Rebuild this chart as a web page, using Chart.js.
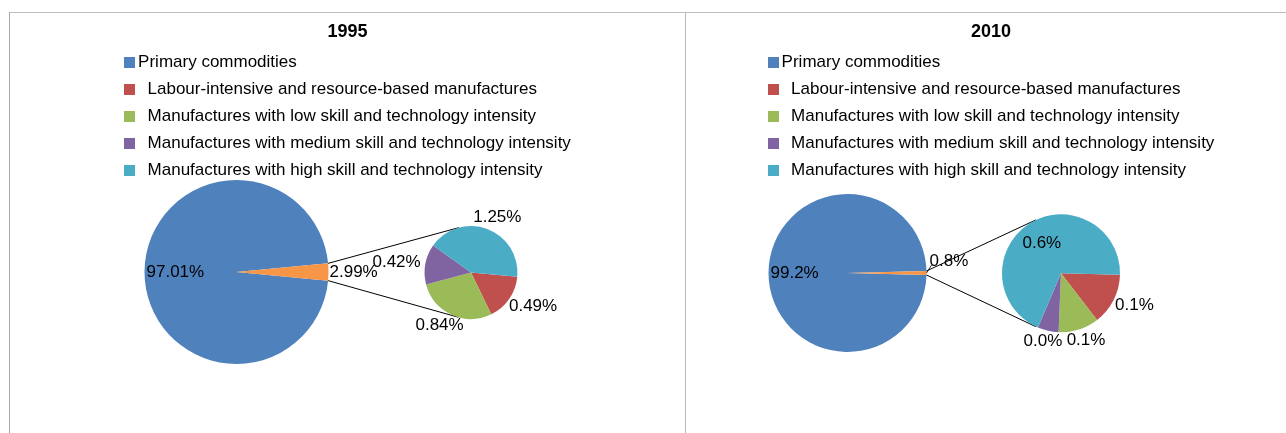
<!DOCTYPE html>
<html lang="en">
<head>
<meta charset="UTF-8">
<title>Export structure by product group, 1995 and 2010</title>
<script src="https://cdn.jsdelivr.net/npm/chart.js"></script>
<style>
  body { margin: 0; background: #fff; font-family: 'Liberation Sans', Arial, sans-serif; color: #000; }
  .panel { position: absolute; top: 12px; height: 440px; border-top: 1px solid #bdbdbd; box-sizing: border-box; }
  #p1995 { left: 9px; width: 677px; border-left: 1px solid #a8a8a8; border-right: 1px solid #b8b8b8; }
  #p2010 { left: 686px; width: 610px; }
  .panel canvas { position: absolute; left: 0; top: 0; }
  .title { position: absolute; top: 6px; left: 0; right: 0; text-align: center; font-weight: bold; font-size: 18px; line-height: 24px; }
  .legend { position: absolute; top: 35px; left: 0; right: 0; text-align: center; }
  .legend ul { display: inline-block; list-style: none; margin: 0; padding: 0; text-align: left; }
  .legend li { height: 27px; line-height: 27px; font-size: 17px; white-space: pre; }
  .legend .sw { display: inline-block; width: 11px; height: 11px; margin-right: 3px; vertical-align: -1px; }
</style>
</head>
<body>
<div class="panel" id="p1995">
  <canvas id="big1995" width="675" height="420"></canvas>
  <canvas id="small1995" width="675" height="420"></canvas>
  <div class="title">1995</div>
  <div class="legend"><ul id="legend1995"></ul></div>
</div>
<div class="panel" id="p2010">
  <canvas id="big2010" width="600" height="420"></canvas>
  <canvas id="small2010" width="600" height="420"></canvas>
  <div class="title">2010</div>
  <div class="legend"><ul id="legend2010"></ul></div>
</div>

<script>
// product groups (the source sheet has leading spaces on the manufactures)
const categories = [
  'Primary commodities',
  '  Labour-intensive and resource-based manufactures',
  '  Manufactures with low skill and technology intensity',
  '  Manufactures with medium skill and technology intensity',
  '  Manufactures with high skill and technology intensity'
];
const colors = ['#4F81BD', '#C0504D', '#9BBB59', '#8064A2', '#4BACC6'];
const otherColor = '#F79646';

// shares of total exports, %
const main1995 = [97.01, 2.99];          // primary, all manufactures
const split1995 = [0.49, 0.84, 0.42, 1.25];
const main2010 = [99.2, 0.8];
const split2010 = [0.113, 0.089, 0.046, 0.552];

// slice value labels
const sliceLabels = {
  id: 'sliceLabels',
  afterDatasetsDraw(chart, args, opts) {
    const ctx = chart.ctx;
    const values = chart.data.datasets[0].data;
    const meta = chart.getDatasetMeta(0);
    ctx.save();
    ctx.font = '17px "Liberation Sans", Arial, sans-serif';
    ctx.fillStyle = '#000';
    ctx.textAlign = 'center';
    ctx.textBaseline = 'middle';
    meta.data.forEach((arc, i) => {
      const p = arc.getProps(['x', 'y', 'startAngle', 'endAngle', 'outerRadius'], true);
      const mid = (p.startAngle + p.endAngle) / 2;
      const cos = Math.cos(mid), sin = Math.sin(mid);
      const text = values[i].toFixed(opts.digits) + '%';
      const hw = ctx.measureText(text).width / 2, hh = 7;
      const place = opts.place[i];
      let lx, ly;
      if (place === 'inside') {
        lx = p.x + (p.outerRadius - 2) * cos - hw * cos;
        ly = p.y + (p.outerRadius - 2) * sin - hh * sin;
      } else if (place === 'center') {
        lx = p.x + p.outerRadius * 0.6 * cos;
        ly = p.y + p.outerRadius * 0.6 * sin;
      } else {
        const g = opts.gap;
        lx = p.x + (p.outerRadius + g) * cos + hw * cos;
        ly = p.y + (p.outerRadius + g) * sin + hh * sin;
      }
      const shift = (opts.shift && opts.shift[i]) || 0;
      if (shift) {
        // short leader back to the slice edge
        ctx.beginPath();
        ctx.strokeStyle = '#000';
        ctx.lineWidth = 0.8;
        ctx.moveTo(p.x + p.outerRadius * cos, p.y + p.outerRadius * sin);
        ctx.lineTo(lx - hw + 2, ly + shift + 4);
        ctx.stroke();
      }
      ctx.fillText(text, lx, ly + shift);
    });
    ctx.restore();
  }
};

function pie(id, values, bg, geom, labels, extra) {
  const canvas = document.getElementById(id);
  const W = canvas.width, H = canvas.height;
  const total = values.reduce((a, b) => a + b, 0);
  const halfLast = values[values.length - 1] / total * 180;
  return new Chart(canvas, {
    type: 'pie',
    data: { labels: values.map((v, i) => i), datasets: [{ data: values, backgroundColor: bg, borderWidth: 0, hoverOffset: 0 }] },
    options: {
      responsive: false,
      animation: false,
      events: [],
      // first slice starts just below 3 o'clock so the last one sits centred on it
      rotation: 90 + (geom.centreLast ? halfLast : values[0] ? 0 : 0),
      layout: { padding: { left: geom.cx - geom.r, top: geom.cy - geom.r, right: W - geom.cx - geom.r, bottom: H - geom.cy - geom.r } },
      plugins: { legend: { display: false }, tooltip: { enabled: false }, sliceLabels: labels }
    },
    plugins: [sliceLabels].concat(extra || [])
  });
}

// lines from the manufactures slice of the main pie to tangents of the breakdown pie
function connector(source) {
  return {
    id: 'connector',
    beforeDatasetsDraw(chart) {
      const a = source.getDatasetMeta(0).data[1].getProps(['x', 'y', 'startAngle', 'endAngle', 'outerRadius'], true);
      const b = chart.getDatasetMeta(0).data[0].getProps(['x', 'y', 'outerRadius'], true);
      const ctx = chart.ctx;
      ctx.save();
      ctx.strokeStyle = '#000';
      ctx.lineWidth = 1;
      ctx.beginPath();
      [a.startAngle, a.endAngle].forEach((t, k) => {
        const px = a.x + a.outerRadius * Math.cos(t), py = a.y + a.outerRadius * Math.sin(t);
        const base = Math.atan2(py - b.y, px - b.x);
        const alpha = Math.acos(b.outerRadius / Math.hypot(px - b.x, py - b.y));
        const tt = k === 0 ? base + alpha : base - alpha;
        ctx.moveTo(px, py);
        ctx.lineTo(b.x + b.outerRadius * Math.cos(tt), b.y + b.outerRadius * Math.sin(tt));
      });
      ctx.stroke();
      ctx.restore();
    }
  };
}

function legend(id) {
  document.getElementById(id).innerHTML = categories.map((c, i) =>
    '<li><span class="sw" style="background:' + colors[i] + '"></span>' + c + '</li>').join('');
}

// 1995
const big1995 = pie('big1995', main1995, [colors[0], otherColor], { cx: 226.5, cy: 259, r: 92, centreLast: true },
  { digits: 2, place: ['inside', 'outside'], gap: 1 });
// breakdown pie starts at the same angle as the main pie's small slice
const half1995 = main1995[1] / (main1995[0] + main1995[1]) * 180;
const small1995 = new Chart(document.getElementById('small1995'), {
  type: 'pie',
  data: { labels: categories.slice(1), datasets: [{ data: split1995, backgroundColor: colors.slice(1), borderWidth: 0, hoverOffset: 0 }] },
  options: {
    responsive: false, animation: false, events: [],
    rotation: 90 + half1995,
    layout: { padding: { left: 461 - 46.5, top: 259.5 - 46.5, right: 675 - 461 - 46.5, bottom: 420 - 259.5 - 46.5 } },
    plugins: { legend: { display: false }, tooltip: { enabled: false },
      sliceLabels: { digits: 2, place: ['outside', 'outside', 'outside', 'outside'], gap: 5 } }
  },
  plugins: [sliceLabels, connector(big1995)]
});

// 2010
const big2010 = pie('big2010', main2010, [colors[0], otherColor], { cx: 161.5, cy: 260, r: 79, centreLast: true },
  { digits: 1, place: ['inside', 'outside'], gap: 3, shift: [0, -12] });
const half2010 = main2010[1] / (main2010[0] + main2010[1]) * 180;
const small2010 = new Chart(document.getElementById('small2010'), {
  type: 'pie',
  data: { labels: categories.slice(1), datasets: [{ data: split2010, backgroundColor: colors.slice(1), borderWidth: 0, hoverOffset: 0 }] },
  options: {
    responsive: false, animation: false, events: [],
    rotation: 90 + half2010,
    layout: { padding: { left: 375 - 59, top: 260.3 - 59, right: 600 - 375 - 59, bottom: 420 - 260.3 - 59 } },
    plugins: { legend: { display: false }, tooltip: { enabled: false },
      sliceLabels: { digits: 1, place: ['outside', 'outside', 'outside', 'center'], gap: 4 } }
  },
  plugins: [sliceLabels, connector(big2010)]
});

legend('legend1995');
legend('legend2010');
</script>
</body>
</html>
